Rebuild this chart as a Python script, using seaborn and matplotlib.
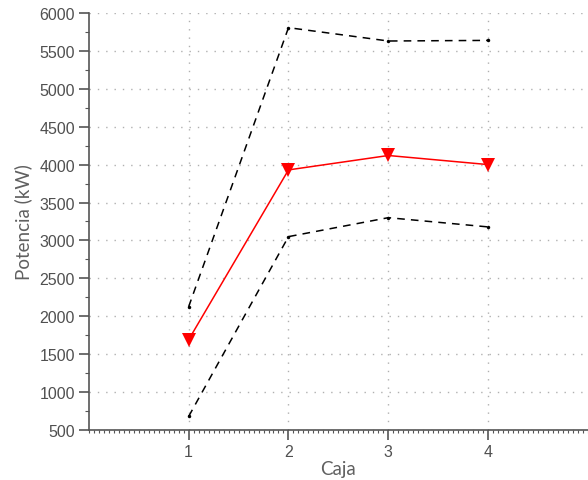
import matplotlib
matplotlib.use("Agg")
import matplotlib.pyplot as plt
from matplotlib.ticker import MultipleLocator
import numpy as np
import pandas as pd
import seaborn as sns

# Potencia por caja: valor medio y banda superior/inferior
cajas = [1, 2, 3, 4]
potencia_media = [1690, 3930, 4120, 4000]
potencia_sup = [2125, 5806, 5630, 5638]
potencia_inf = [678, 3050, 3300, 3178]

sns.set_theme(style="white")
plt.rcParams["font.family"] = ["Liberation Sans", "DejaVu Sans"]

fig = plt.figure(figsize=(5.88, 4.81), dpi=100)
ax = fig.add_axes([0.151, 0.104, 0.849, 0.867])

df = pd.DataFrame({"Caja": cajas, "media": potencia_media,
                   "sup": potencia_sup, "inf": potencia_inf})

for col in ["sup", "inf"]:
    sns.lineplot(data=df, x="Caja", y=col, ax=ax, color="black", lw=1.1,
                 marker="o", markersize=2.5, markeredgewidth=0,
                 dashes=False, zorder=3)
for line in ax.get_lines():
    line.set_dashes((5, 4))

sns.lineplot(data=df, x="Caja", y="media", ax=ax, color="#ff0000", lw=1.1,
             marker="v", markersize=10, markeredgewidth=0, zorder=4)

ax.set_xlim(0, 5)
ax.set_ylim(500, 6000)
ax.set_xticks([1, 2, 3, 4])
ax.set_yticks(np.arange(500, 6001, 500))
ax.yaxis.set_minor_locator(MultipleLocator(250))
ax.xaxis.set_minor_locator(MultipleLocator(0.05))

ax.grid(True, which="major", color="#b0b0b0", linestyle=(0, (1, 5)), lw=1)
ax.set_axisbelow(True)

for side in ["top", "right"]:
    ax.spines[side].set_visible(False)
for side in ["left", "bottom"]:
    ax.spines[side].set_color("#555555")
    ax.spines[side].set_linewidth(1.2)

ax.tick_params(which="major", direction="out", length=7, width=1.2,
               color="#555555", labelcolor="#505050", labelsize=11.5,
               bottom=True, left=True, pad=3)
ax.tick_params(which="minor", direction="out", length=3, width=0.8,
               color="#555555", bottom=True, left=True)
ax.tick_params(axis="x", which="minor", length=2)

label_font = ["Lato", "DejaVu Sans"]
ax.set_xlabel("Caja", fontsize=13.5, color="#606060", family=label_font, labelpad=1)
ax.set_ylabel("Potencia (kW)", fontsize=13.5, color="#606060", family=label_font, labelpad=5)

fig.savefig("out.png", dpi=100)
